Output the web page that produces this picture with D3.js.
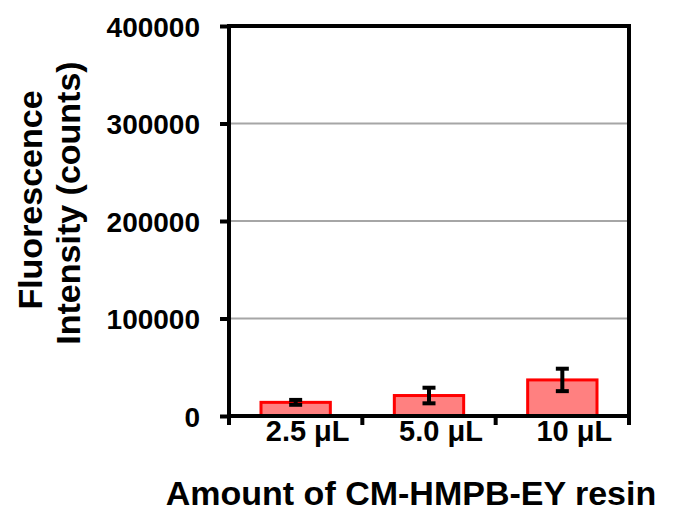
<!DOCTYPE html>
<html>
<head>
<meta charset="utf-8">
<script src="https://cdn.jsdelivr.net/npm/d3@7"></script>
<style>
  html, body { margin: 0; padding: 0; background: #ffffff; }
  svg { display: block; }
  text { font-family: "Liberation Sans", Arial, sans-serif; font-weight: bold; fill: #000; }
</style>
</head>
<body>
<svg id="chart" width="679" height="518"></svg>
<script>
// Fluorescence intensity vs. amount of resin
const categories = ["2.5 \u03bcL", "5.0 \u03bcL", "10 \u03bcL"];
const intensity = [14000, 21000, 37000];
const errors = [2500, 8000, 11500];
const yTicks = [0, 100000, 200000, 300000, 400000];

const svg = d3.select("#chart");
const plot = { left: 229, right: 629, top: 26, bottom: 416 };

const x = d3.scaleBand()
  .domain(categories)
  .range([plot.left, plot.right])
  .paddingInner(0.48)
  .paddingOuter(0.24);

const y = d3.scaleLinear()
  .domain([0, 400000])
  .range([plot.bottom, plot.top]);

// horizontal gridlines
svg.append("g")
  .selectAll("line")
  .data(yTicks.filter(t => t > 0 && t < 400000))
  .join("line")
  .attr("x1", plot.left).attr("x2", plot.right)
  .attr("y1", d => y(d)).attr("y2", d => y(d))
  .attr("stroke", "#a6a6a6")
  .attr("stroke-width", 2);

// bars
svg.append("g")
  .selectAll("rect")
  .data(intensity)
  .join("rect")
  .attr("x", (d, i) => x(categories[i]))
  .attr("width", x.bandwidth())
  .attr("y", d => y(d))
  .attr("height", d => y(0) - y(d))
  .attr("fill", "#ff8080")
  .attr("stroke", "#ff0000")
  .attr("stroke-width", 3);

// error bars
const eb = svg.append("g").attr("stroke", "#000").attr("stroke-width", 4);
intensity.forEach((v, i) => {
  const cx = x(categories[i]) + x.bandwidth() / 2;
  const capW = 6.5;
  eb.append("line")
    .attr("x1", cx).attr("x2", cx)
    .attr("y1", y(v + errors[i])).attr("y2", y(v - errors[i]));
  [v + errors[i], v - errors[i]].forEach(e => {
    eb.append("line")
      .attr("x1", cx - capW).attr("x2", cx + capW)
      .attr("y1", y(e)).attr("y2", y(e));
  });
});

// frame: top and right border
const frame = svg.append("g").attr("stroke", "#000").attr("stroke-width", 4).attr("fill", "none");
frame.append("path")
  .attr("d", `M${plot.left},${plot.top}H${plot.right}V${plot.bottom}`)
  .attr("stroke-linecap", "square");

// y axis
const yAxis = svg.append("g")
  .attr("transform", `translate(${plot.left},0)`)
  .call(d3.axisLeft(y).tickValues(yTicks).tickSize(9).tickPadding(20).tickFormat(d3.format("d")));
yAxis.select(".domain").remove();
yAxis.selectAll(".tick line").attr("stroke", "#000").attr("stroke-width", 4);
yAxis.selectAll(".tick text")
  .style("font-size", "28px")
  .style("font-family", "'Liberation Sans', Arial, sans-serif")
  .style("font-weight", "bold")
  .attr("dy", "0.36em");
yAxis.append("line")
  .attr("x1", 0).attr("x2", 0)
  .attr("y1", plot.top - 2).attr("y2", plot.bottom + 9)
  .attr("stroke", "#000").attr("stroke-width", 4);

// x axis with ticks at category boundaries
const xAxisG = svg.append("g");
xAxisG.append("line")
  .attr("x1", plot.left - 2).attr("x2", plot.right + 2)
  .attr("y1", plot.bottom).attr("y2", plot.bottom)
  .attr("stroke", "#000").attr("stroke-width", 4);
const step = x.step();
const boundaries = categories.map((c, i) => x(c) - x.paddingInner() * step / 2).slice(1).concat([plot.right]);
xAxisG.selectAll("line.tk")
  .data(boundaries)
  .join("line")
  .attr("class", "tk")
  .attr("x1", d => d).attr("x2", d => d)
  .attr("y1", plot.bottom).attr("y2", plot.bottom + 9)
  .attr("stroke", "#000").attr("stroke-width", 4);
xAxisG.selectAll("text")
  .data(categories)
  .join("text")
  .attr("x", d => x(d) + x.bandwidth() / 2 + 12)
  .attr("y", 441)
  .attr("text-anchor", "middle")
  .style("font-size", "29px")
  .text(d => d);

// axis titles
svg.append("text")
  .attr("transform", "translate(42,200) rotate(-90)")
  .attr("text-anchor", "middle")
  .style("font-size", "34px")
  .text("Fluorescence");
svg.append("text")
  .attr("transform", "translate(80,203) rotate(-90)")
  .attr("text-anchor", "middle")
  .style("font-size", "34px")
  .text("Intensity (counts)");
svg.append("text")
  .attr("x", 411)
  .attr("y", 505)
  .attr("text-anchor", "middle")
  .style("font-size", "34px")
  .text("Amount of CM-HMPB-EY resin");
</script>
</body>
</html>
